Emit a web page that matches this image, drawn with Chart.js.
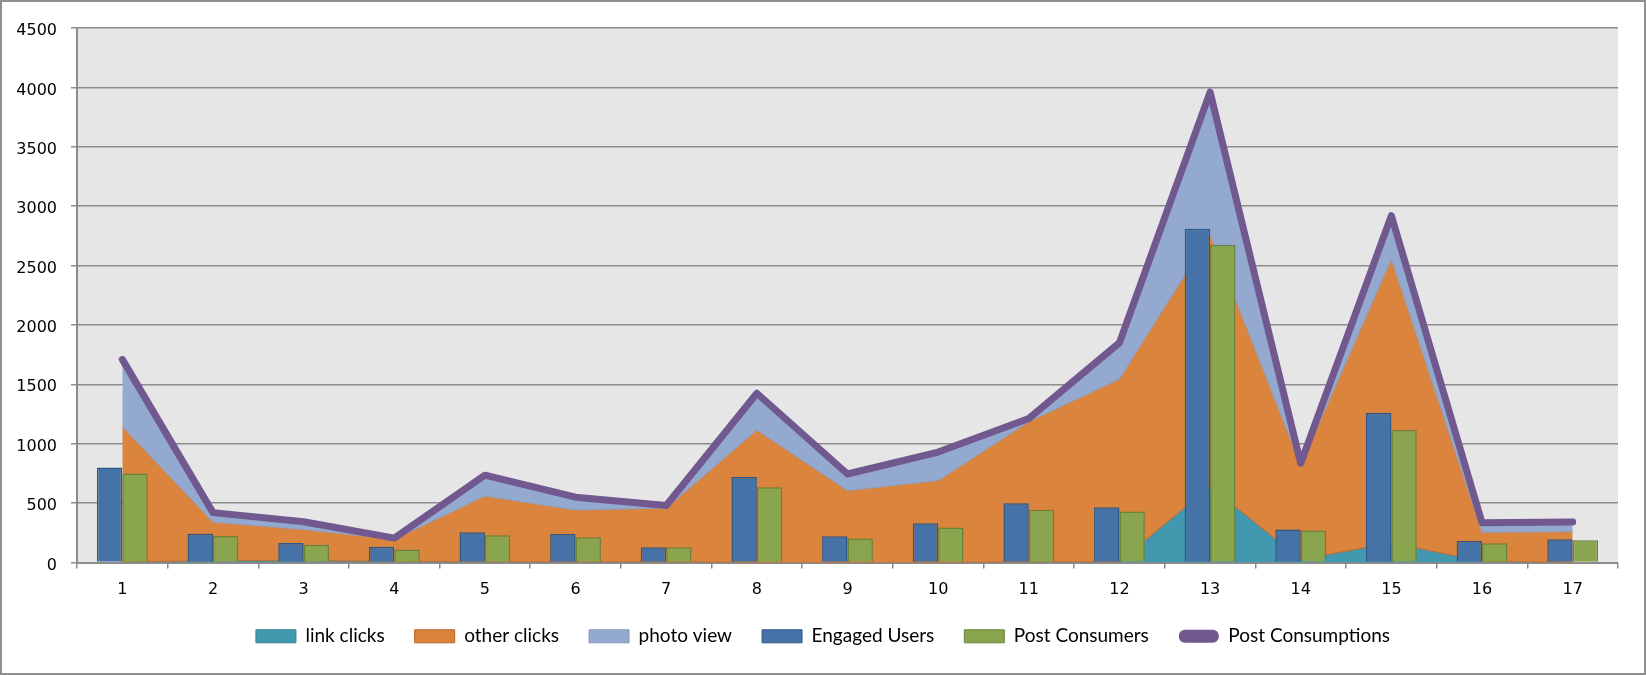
<!DOCTYPE html>
<html>
<head>
<meta charset="utf-8">
<script src="https://cdn.jsdelivr.net/npm/chart.js@4.4.1/dist/chart.umd.min.js"></script>
<style>
html,body{margin:0;padding:0;background:#fff;overflow:hidden}
#wrap{width:1646px;height:675px;position:relative}
canvas{display:block}
</style>
</head>
<body>
<div id="wrap"><canvas id="c" width="1646" height="675"></canvas></div>
<script>
// ---- data ----
const categories = ['1','2','3','4','5','6','7','8','9','10','11','12','13','14','15','16','17'];
const linkClicks       = [5, 15, 15, 10, 5, 5, 5, 0, 0, 0, 5, 5, 640, 25, 165, 10, 0];
const otherClicks      = [1140, 325, 263, 185, 555, 437, 453, 1115, 606, 690, 1180, 1540, 2120, 795, 2390, 245, 260];
const photoView        = [565, 80, 65, 10, 175, 108, 22, 310, 139, 240, 27, 305, 1200, 15, 365, 80, 80];
const engagedUsers     = [800, 241, 165, 132, 255, 240, 128, 720, 222, 330, 498, 465, 2810, 278, 1260, 180, 196];
const postConsumers    = [749, 224, 149, 109, 230, 212, 128, 634, 203, 295, 445, 430, 2675, 270, 1115, 163, 188];
const postConsumptions = [1710, 420, 343, 205, 735, 550, 480, 1425, 745, 930, 1212, 1850, 3960, 835, 2920, 335, 340];
const yMin = 0, yMax = 4500, yStep = 500;

const frameAndBg = {
  id: 'frameAndBg',
  beforeDraw(chart) {
    const {ctx, chartArea: a} = chart;
    ctx.save();
    ctx.fillStyle = '#ffffff';
    ctx.fillRect(0, 0, chart.width, chart.height);
    ctx.fillStyle = '#E6E6E6';
    ctx.fillRect(a.left, a.top, a.right - a.left, a.bottom - a.top);
    ctx.restore();
  },
  afterDraw(chart) {
    const {ctx} = chart;
    ctx.save();
    ctx.strokeStyle = '#8f8f8f';
    ctx.lineWidth = 2;
    ctx.strokeRect(1, 1, chart.width - 2, chart.height - 2);
    ctx.restore();
  }
};

const axisFont = {family: 'DejaVu Sans', size: 16};
const gridColor = '#8c8c8c';

new Chart(document.getElementById('c'), {
  type: 'bar',
  data: {
    labels: categories,
    datasets: [
      {type: 'line', label: 'link clicks', data: linkClicks, stack: 'areas', order: 3, fill: 'origin',
       backgroundColor: '#4198AF', borderColor: '#B8692F', borderWidth: 1, pointRadius: 0, tension: 0,
       legendStroke: '#2F7F93', legendLineWidth: 1},
      {type: 'line', label: 'other clicks', data: otherClicks, stack: 'areas', order: 3, fill: '-1',
       backgroundColor: '#DB843D', borderColor: '#8D9EC0', borderWidth: 1, pointRadius: 0, tension: 0,
       legendStroke: '#B5652A', legendLineWidth: 1},
      {type: 'line', label: 'photo view', data: photoView, stack: 'areas', order: 3, fill: '-1',
       backgroundColor: '#93A9CF', borderColor: '#8497BB', borderWidth: 1, pointRadius: 0, tension: 0,
       legendStroke: '#8497BB', legendLineWidth: 1},
      {type: 'bar', label: 'Engaged Users', data: engagedUsers, stack: 'eu', order: 2,
       backgroundColor: '#4572A7', borderColor: '#2F5785', borderWidth: 1.5,
       categoryPercentage: 0.56, barPercentage: 1.0,
       legendStroke: '#2F5785', legendLineWidth: 1},
      {type: 'bar', label: 'Post Consumers', data: postConsumers, stack: 'pc', order: 2,
       backgroundColor: '#89A54E', borderColor: '#6A8239', borderWidth: 1.5,
       categoryPercentage: 0.56, barPercentage: 1.0,
       legendStroke: '#6A8239', legendLineWidth: 1},
      {type: 'line', label: 'Post Consumptions', data: postConsumptions, stack: 'total', order: 1, fill: false,
       backgroundColor: '#71588F', borderColor: '#71588F', borderWidth: 7, pointRadius: 0, tension: 0,
       borderCapStyle: 'round', borderJoinStyle: 'round',
       legendStroke: '#71588F', legendLineWidth: 0, legendRadius: 6}
    ]
  },
  options: {
    responsive: false,
    devicePixelRatio: 1,
    animation: false,
    layout: {padding: {top: 28, left: 0, right: 0, bottom: 19.2}},
    plugins: {
      tooltip: {enabled: false},
      legend: {
        position: 'bottom',
        labels: {
          boxWidth: 40,
          boxHeight: 13,
          padding: 30,
          color: '#000',
          font: {family: 'Lato', size: 19},
          useBorderRadius: true,
          generateLabels(chart) {
            return chart.data.datasets.map((ds, i) => ({
              text: ds.label,
              fillStyle: ds.backgroundColor,
              strokeStyle: ds.legendStroke,
              lineWidth: ds.legendLineWidth,
              borderRadius: ds.legendRadius || 0,
              fontColor: '#000',
              hidden: !chart.isDatasetVisible(i),
              datasetIndex: i
            }));
          }
        }
      }
    },
    scales: {
      x: {
        offset: true,
        z: 1,
        grid: {offset: true, drawOnChartArea: false, drawTicks: true, tickLength: 6, color: gridColor, lineWidth: 1.5},
        border: {color: gridColor, width: 2},
        ticks: {color: '#000', font: axisFont, padding: 12, maxRotation: 0, autoSkip: false},
        afterFit(s) { s.height = 34.3; }
      },
      y: {
        stacked: true,
        min: yMin, max: yMax,
        grid: {color: gridColor, lineWidth: 1.5, drawTicks: true, tickLength: 6},
        border: {color: gridColor, width: 2},
        ticks: {stepSize: yStep, color: '#000', font: axisFont, padding: 14, labelOffset: 3,
                callback: (v) => String(v)},
        afterFit(s) { s.width = 77; }
      },
      yRightSpacer: {
        position: 'right',
        display: true,
        min: yMin, max: yMax,
        grid: {display: false, drawOnChartArea: false},
        border: {display: false},
        ticks: {display: false},
        afterFit(s) { s.width = 28; }
      }
    }
  },
  plugins: [frameAndBg]
});
</script>
</body>
</html>
